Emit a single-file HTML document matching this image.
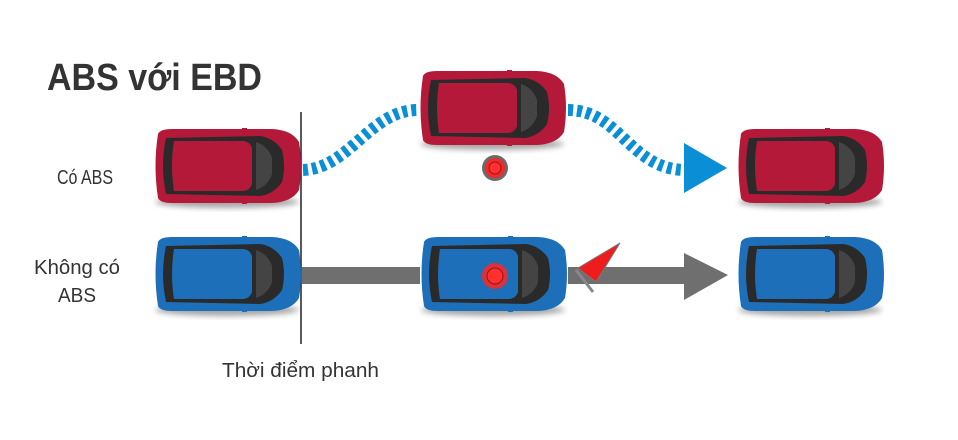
<!DOCTYPE html>
<html><head><meta charset="utf-8"><style>
html,body{margin:0;padding:0;background:#fff;}
svg{display:block;}
text{font-family:"Liberation Sans",sans-serif;}
</style></head><body>
<svg width="958" height="440" viewBox="0 0 958 440" xmlns="http://www.w3.org/2000/svg">
<defs>
<filter id="sh" x="-10%" y="-20%" width="120%" height="150%"><feGaussianBlur stdDeviation="3"/></filter>
<g id="carbase">
  <ellipse cx="75" cy="74" rx="72" ry="6" fill="#000" opacity="0.35" filter="url(#sh)"/>
  <path d="M6,6 Q8,1 20,1 L120,1 Q140,2 147,14 Q151,38 147,62 Q140,74 120,75 L20,75 Q8,75 6,70 Q1,38 6,6 Z" fill="currentColor"/>
  <path d="M14,10 L108,8 Q122,10 130,22 Q134,38 130,54 Q122,66 108,68 L14,66 Q8,38 14,10 Z" fill="#2a2a2a"/>
  <path d="M22,13 L92,13 Q98,14 100,20 L100,56 Q98,62 92,63 L22,63 Q18,38 22,13 Z" fill="currentColor"/>
  <path d="M104,14 Q116,18 120,30 L120,46 Q116,58 104,62 Z" fill="#444"/>
  <rect x="90" y="0" width="5" height="5" fill="currentColor"/>
  <rect x="90" y="71" width="5" height="5" fill="currentColor"/>
</g>
</defs>

<text x="47" y="90" font-size="38" font-weight="bold" fill="#333" textLength="215" lengthAdjust="spacingAndGlyphs">ABS với EBD</text>
<text x="57" y="184" font-size="20" fill="#333" textLength="56" lengthAdjust="spacingAndGlyphs">Có ABS</text>
<text x="34" y="274" font-size="20" fill="#333" textLength="86" lengthAdjust="spacingAndGlyphs">Không có</text>
<text x="58" y="302" font-size="20" fill="#333" textLength="38" lengthAdjust="spacingAndGlyphs">ABS</text>
<text x="222" y="377" font-size="20" fill="#333" textLength="157" lengthAdjust="spacingAndGlyphs">Thời điểm phanh</text>

<path d="M303,170 C350,168 370,110 418,110" fill="none" stroke="#0a8ed6" stroke-width="12" stroke-dasharray="5 4"/>
<path d="M568,110 C620,110 630,170 686,170" fill="none" stroke="#0a8ed6" stroke-width="12" stroke-dasharray="5 4"/>
<polygon points="684,143 727,168 684,193" fill="#0a8ed6"/>

<rect x="302" y="267" width="118" height="17" fill="#6f6f6f"/>
<rect x="568" y="267" width="122" height="17" fill="#6f6f6f"/>
<polygon points="684,253 728,275 684,300" fill="#6f6f6f"/>

<line x1="301" y1="112" x2="301" y2="344" stroke="#222" stroke-width="1.5"/>

<use href="#carbase" x="152" y="128" color="#b5193a"/>
<use href="#carbase" x="417" y="70" color="#b5193a"/>
<use href="#carbase" x="735" y="128" color="#b5193a"/>
<use href="#carbase" x="152" y="236" color="#1e6fb9"/>
<use href="#carbase" x="418" y="236" color="#1e6fb9"/>
<use href="#carbase" x="735" y="236" color="#1e6fb9"/>

<circle cx="495" cy="168" r="13" fill="#6a6a6a"/>
<circle cx="495" cy="168" r="10" fill="#f02a2a"/>
<circle cx="495" cy="168" r="6" fill="#ff3030" stroke="#a01010" stroke-width="1"/>
<circle cx="495" cy="276" r="13" fill="#f02a2a" opacity="0.9"/>
<circle cx="495" cy="276" r="8" fill="#ff3030" stroke="#a01010" stroke-width="1"/>

<polygon points="578,268 620,243 596,282" fill="#ee1c1c" stroke="#777" stroke-width="1"/>
<line x1="576" y1="270" x2="593" y2="292" stroke="#888" stroke-width="3"/>
</svg>
</body></html>
